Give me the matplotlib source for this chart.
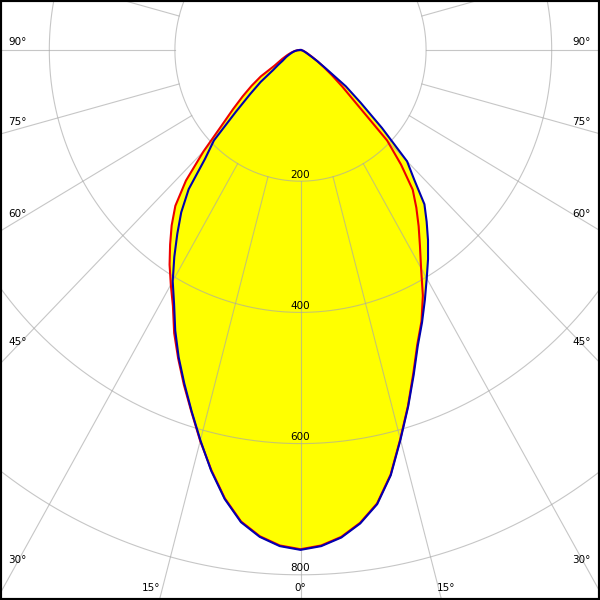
import numpy as np
import matplotlib
matplotlib.use("Agg")
import matplotlib.pyplot as plt

# ---- data (gamma angle in degrees from nadir, luminous intensity) ----
gamma = [0, 2.5, 5, 7.5, 10, 12.5, 15, 17.5, 20, 22.5, 25, 27.5, 30, 32.5, 35, 37.5, 40,
         42.5, 45, 47.5, 50, 52.5, 55, 57.5, 60, 65, 70, 75, 80, 85, 90]
c0_red_right = [761, 756, 745, 727, 702, 663, 614, 569, 525, 486, 456, 422, 384, 354, 328, 303, 278,
                237, 195, 120, 87, 63, 45, 32, 22, 12, 7, 4, 2, 1, 0]
c180_red_left = [761, 756, 744, 725, 694, 656, 617, 578, 543, 509, 476, 440, 413, 388, 362, 337, 310,
                 270, 218, 170, 140, 116, 95, 75, 48, 32, 22, 15, 10, 5, 0]
c90_blue_right = [762, 757, 746, 728, 703, 664, 615, 570, 527, 488, 458, 429, 402, 378, 354, 330, 307,
                  268, 240, 176, 125, 91, 50, 32, 20, 10, 6, 4, 2, 1, 0]
c270_blue_left = [762, 757, 745, 726, 695, 657, 616, 577, 541, 507, 472, 436, 407, 374, 342, 312, 277,
                  225, 195, 140, 105, 80, 53, 42, 33, 25, 18, 13, 9, 5, 0]

ring_values = [200, 400, 600, 800]
ring_labels = ["200", "400", "600", "800"]
spoke_angles = list(range(0, 360, 15))

angle_labels_side = ["90°", "75°", "60°", "45°", "30°"]
angle_labels_bottom = ["15°", "0°", "15°"]

# ---- layout ----
W = H = 600
fig = plt.figure(figsize=(6, 6), dpi=100)
ax = fig.add_axes([0, 0, 1, 1])
cx_px, cy_px = 300.5, 50.0
sx, sy = 0.628, 0.656  # px per unit
ax.set_xlim(-cx_px / sx, (W - cx_px) / sx)
ax.set_ylim(-(H - cy_px) / sy, cy_px / sy)
ax.set_aspect("auto")
ax.set_xticks([]); ax.set_yticks([])
for s in ax.spines.values():
    s.set_linewidth(3.0)
    s.set_color("black")
    s.set_zorder(10)

g = np.radians(gamma)

def half(vals, side):
    v = np.asarray(vals, float)
    return side * v * np.sin(g), -v * np.cos(g)

def full_curve(right_vals, left_vals):
    xr, yr = half(right_vals, 1)
    xl, yl = half(left_vals, -1)
    x = np.concatenate([xl[::-1], xr])
    y = np.concatenate([yl[::-1], yr])
    return x, y

xr_, yr_ = full_curve(c0_red_right, c180_red_left)
xb_, yb_ = full_curve(c90_blue_right, c270_blue_left)

ax.fill(xr_, yr_, color="#ffff00", zorder=1, lw=0)
ax.fill(xb_, yb_, color="#ffff00", zorder=1, lw=0)

# grid
grid_kw = dict(color="#a8a8a8", lw=0.8, alpha=0.65, zorder=2)
t = np.linspace(0, 2 * np.pi, 721)
for r in ring_values:
    ax.plot(r * np.sin(t), r * np.cos(t), **grid_kw)
for a in spoke_angles:
    ar = np.radians(a)
    ax.plot([200 * np.sin(ar), 1500 * np.sin(ar)], [-200 * np.cos(ar), -1500 * np.cos(ar)], **grid_kw)

ax.plot(xr_, yr_, color="#ee0000", lw=1.5, zorder=3, solid_joinstyle="round")
ax.plot(xb_, yb_, color="#0000b0", lw=1.5, zorder=4, solid_joinstyle="round")

font = dict(family="DejaVu Sans", size=7.5, color="black")
for r, lab in zip(ring_values, ring_labels):
    ax.annotate(lab, (0, -r), xytext=(0, 1), textcoords="offset points",
                ha="center", va="bottom", zorder=5, **font)

def fxy(px, py):
    return px / W, 1 - py / H

side_y = [42, 122, 214, 342, 560]
for lab, py in zip(angle_labels_side, side_y):
    fig.text(*fxy(8, py), lab, ha="left", va="center", **font)
    fig.text(*fxy(591, py), lab, ha="right", va="center", **font)

bottom_x = [151, 300, 446]
for lab, px in zip(angle_labels_bottom, bottom_x):
    fig.text(*fxy(px, 588), lab, ha="center", va="center", **font)

fig.savefig("out.png", dpi=100)
